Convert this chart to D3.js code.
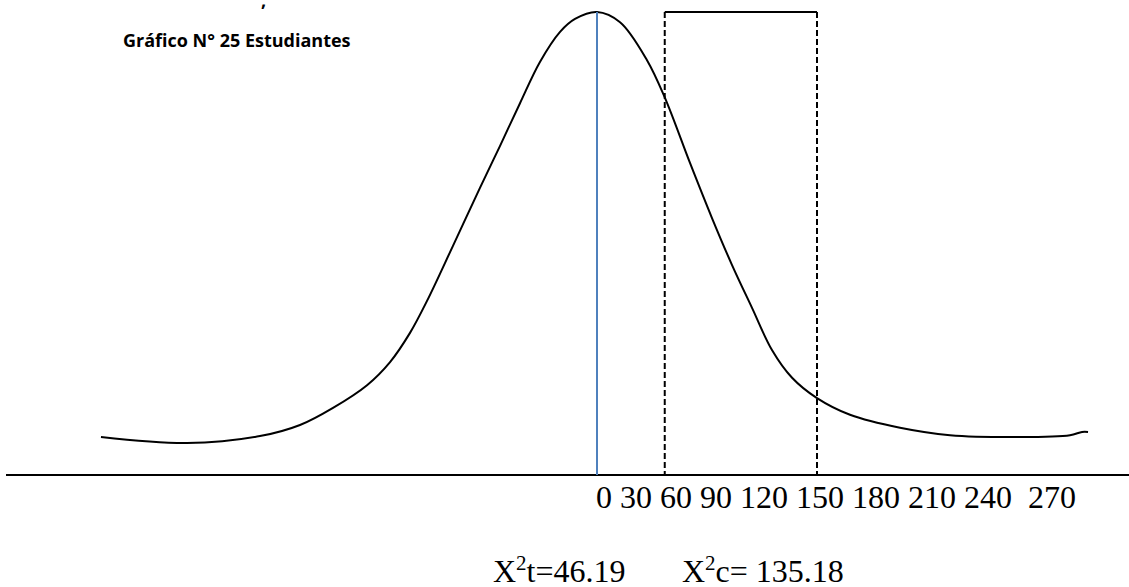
<!DOCTYPE html>
<html>
<head>
  <meta charset="utf-8">
  <title>Grafico 25</title>
  <script src="https://d3js.org/d3.v7.min.js"></script>
  <style>
    body { margin: 0; background: #fff; }
  </style>
</head>
<body>
  <script>
// data
var tickLabels = ['0', '30', '60', '90', '120', '150', '180', '210', '240', ' 270'];
var criticalValues = [46.19, 150];   // dashed lines (drawn position)
var curveX = [-338.2, -279.5, -229.8, -202.5, -180.0, -156.8, -141.1, -127.5, -115.9, -98.2,
              -79.8, -66.1, -52.5, -38.9, -25.2, -15.0, 0, 15.7, 34.1, 46.4, 63.4, 78.4,
              92.0, 105.7, 119.3, 133.0, 150, 172.5, 206.6, 240.7, 288.4, 322.5, 330.7, 334.8];
var curveY = [0.082, 0.069, 0.084, 0.108, 0.145, 0.194, 0.244, 0.307, 0.376, 0.495,
              0.620, 0.711, 0.803, 0.892, 0.957, 0.985, 1, 0.978, 0.896, 0.814, 0.674, 0.555,
              0.454, 0.361, 0.270, 0.210, 0.166, 0.130, 0.102, 0.086, 0.082, 0.086, 0.093, 0.093];
var chiT = '46.19';
var chiC = '135.18';

var width = 1129,
    height = 587;

var svg = d3.select('body')
  .append('svg')
  .attr('width', width)
  .attr('height', height);

var x = d3.scaleLinear().domain([0, 150]).range([597, 817]);
var y = d3.scaleLinear().domain([0, 1]).range([475, 12]);

// baseline
svg.append('line')
  .attr('x1', 6).attr('x2', width)
  .attr('y1', y(0)).attr('y2', y(0))
  .attr('stroke', '#000')
  .attr('stroke-width', 2);

// the bell curve
var line = d3.line()
  .x(function(d) { return x(d[0]); })
  .y(function(d) { return y(d[1]); })
  .curve(d3.curveCatmullRom.alpha(0.5));

svg.append('path')
  .datum(d3.zip(curveX, curveY))
  .attr('fill', 'none')
  .attr('stroke', '#000')
  .attr('stroke-width', 2)
  .attr('d', line);

// mean line
svg.append('line')
  .attr('x1', x(0)).attr('x2', x(0))
  .attr('y1', y(1)).attr('y2', y(0))
  .attr('stroke', '#4f81bd')
  .attr('stroke-width', 2);

// dashed region
svg.selectAll('.crit')
  .data(criticalValues)
  .enter()
  .append('line')
  .attr('class', 'crit')
  .attr('x1', function(d) { return x(d); })
  .attr('x2', function(d) { return x(d); })
  .attr('y1', y(1)).attr('y2', y(0))
  .attr('stroke', '#000')
  .attr('stroke-width', 2)
  .attr('stroke-dasharray', '6,3');

svg.append('line')
  .attr('x1', x(criticalValues[0])).attr('x2', x(criticalValues[1]))
  .attr('y1', y(1)).attr('y2', y(1))
  .attr('stroke', '#000')
  .attr('stroke-width', 2);

// tick labels, flowing like typed text
var ticks = svg.append('text')
  .attr('x', x(0) - 1)
  .attr('y', 508)
  .attr('font-family', '"Liberation Serif", "Times New Roman", serif')
  .attr('font-size', 32)
  .attr('fill', '#000')
  .style('white-space', 'pre');

ticks.selectAll('tspan')
  .data(tickLabels)
  .enter()
  .append('tspan')
  .text(function(d, i) { return (i > 0 ? ' ' : '') + d; });

// title
svg.append('text')
  .attr('x', 123)
  .attr('y', 47)
  .attr('font-family', '"Open Sans", "Liberation Sans", sans-serif')
  .attr('font-weight', 'bold')
  .attr('font-size', 18)
  .attr('fill', '#000')
  .text('Gráfico N° 25 Estudiantes');

svg.append('text')
  .attr('x', 261)
  .attr('y', 7)
  .attr('font-family', '"Open Sans", sans-serif')
  .attr('font-weight', 'bold')
  .attr('font-size', 18)
  .text(',');

// chi-square values
function chiLabel(xPos, sub, val) {
  var t = svg.append('text')
    .attr('x', xPos)
    .attr('y', 582)
    .attr('font-family', '"Liberation Serif", "Times New Roman", serif')
    .attr('font-size', 32)
    .attr('fill', '#000')
    .style('white-space', 'pre');
  t.append('tspan').text('X');
  t.append('tspan').attr('dy', -12).attr('font-size', 21).text('2');
  t.append('tspan').attr('dy', 12).text(sub + val);
}
chiLabel(493, 't=', chiT);
chiLabel(682, 'c= ', chiC);

  </script>
</body>
</html>
